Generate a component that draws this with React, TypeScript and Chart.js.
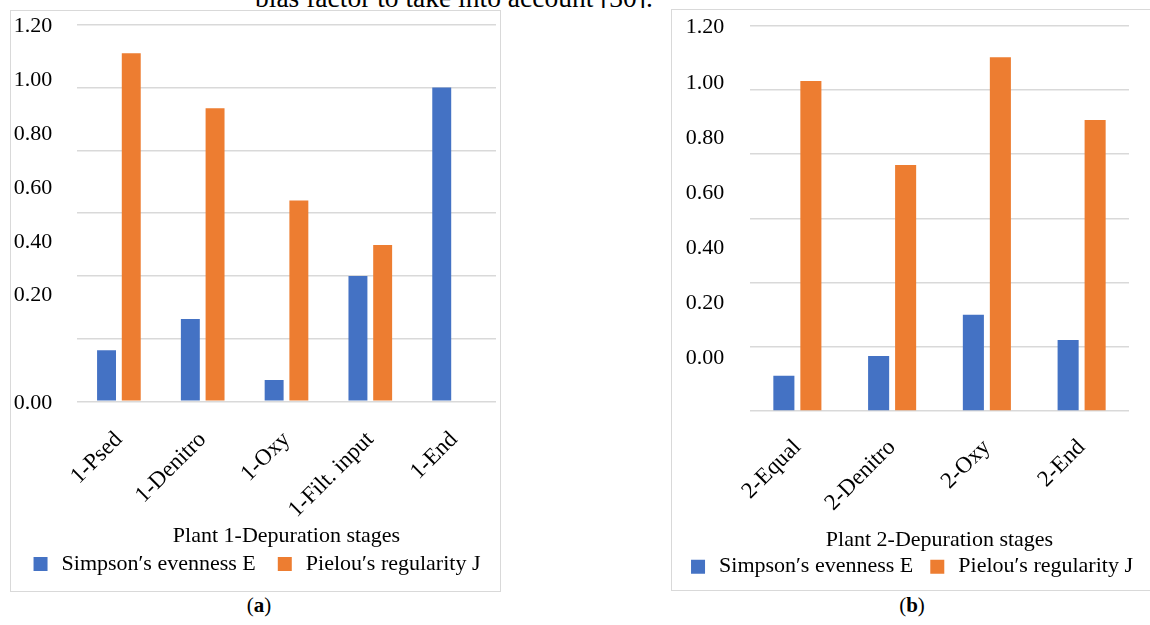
import React, { useEffect, useRef } from 'react';
import { Chart, registerables } from 'chart.js';

Chart.register(...registerables);

// ---- data ----
const plant1Stages = ['1-Psed', '1-Denitro', '1-Oxy', '1-Filt. input', '1-End'];
const plant1Simpson = [0.163, 0.262, 0.068, 0.399, 1.0];
const plant1Pielou = [1.109, 0.934, 0.64, 0.498, 0];

const plant2Stages = ['2-Equal', '2-Denitro', '2-Oxy', '2-End'];
const plant2Simpson = [0.11, 0.171, 0.3, 0.221];
const plant2Pielou = [1.028, 0.766, 1.102, 0.906];

const yTickTexts = ['0.00', '0.20', '0.40', '0.60', '0.80', '1.00', '1.20'];
const plant1TickValues = [-0.2, 0.2, 0.4, 0.6, 0.8, 1.0, 1.2];
const plant2TickValues = [0, 0.2, 0.4, 0.6, 0.8, 1.0, 1.2];

const seriesNames = ['Simpson\u2032s evenness E', 'Pielou\u2032s regularity J'];
const axisTitles = ['Plant 1-Depuration stages', 'Plant 2-Depuration stages'];

const BLUE = '#4472C4';
const ORANGE = '#ED7D31';
const GRID = '#D9D9D9';
const FONT = 'Liberation Serif';

Chart.defaults.font.family = FONT;

type PanelProps = {
  labels: string[];
  simpson: number[];
  pielou: number[];
  tickValues: number[];
  title: string;
  width: number;
  height: number;
  pad: { top: number; right: number; bottom: number; left: number };
  labelWidth: number;
  labelShift: number;
  gapWidth: number;
  rightWidth: number;
  xTickPad: number;
  xHeight: number;
  titlePadBottom: number;
  catPct: number;
  barPct: number;
  legendPad: number;
};

function Panel(p: PanelProps) {
  const ref = useRef<HTMLCanvasElement | null>(null);
  useEffect(() => {
    if (!ref.current) return;
    const mkFont = (size = 22) => ({ family: FONT, size });
    const chart = new Chart(ref.current, {
      type: 'bar',
      data: {
        labels: p.labels,
        datasets: [
          {
            label: seriesNames[0],
            data: p.simpson,
            backgroundColor: BLUE,
            borderWidth: 0,
            categoryPercentage: p.catPct,
            barPercentage: p.barPct,
            yAxisID: 'y',
          },
          {
            label: seriesNames[1],
            data: p.pielou,
            backgroundColor: ORANGE,
            borderWidth: 0,
            categoryPercentage: p.catPct,
            barPercentage: p.barPct,
            yAxisID: 'y',
          },
        ],
      },
      options: {
        responsive: false,
        animation: false,
        layout: { padding: p.pad, autoPadding: false } as any,
        plugins: {
          legend: {
            position: 'bottom',
            labels: {
              font: mkFont(),
              color: '#000',
              boxWidth: 20,
              boxHeight: 20,
              padding: p.legendPad,
              generateLabels: (c: any) =>
                Chart.defaults.plugins.legend.labels
                  .generateLabels(c)
                  .map((it: any) => ({ ...it, lineWidth: 6, strokeStyle: '#ffffff' })),
            },
          },
          tooltip: { enabled: false },
        },
        scales: {
          x: {
            grid: { display: false },
            border: { display: false },
            ticks: {
              font: mkFont(23),
              color: '#000',
              minRotation: 45,
              maxRotation: 45,
              autoSkip: false,
              padding: p.xTickPad,
            },
            title: {
              display: true,
              text: p.title,
              font: mkFont(),
              color: '#000',
              padding: { top: 0, bottom: p.titlePadBottom },
            },
            afterFit: (s: any) => {
              s.height = p.xHeight;
            },
          },
          yl: {
            type: 'linear',
            position: 'left',
            weight: 1,
            min: -0.2 + p.labelShift,
            max: 1.2 + p.labelShift,
            grid: { display: false, drawTicks: false },
            border: { display: false },
            ticks: {
              font: mkFont(),
              color: '#000',
              padding: 0,
              autoSkip: false,
              callback: (_v: any, i: number) => yTickTexts[i],
            },
            afterBuildTicks: (s: any) => {
              s.ticks = p.tickValues.map((v) => ({ value: v }));
            },
            afterFit: (s: any) => {
              s.width = p.labelWidth;
            },
          },
          y: {
            type: 'linear',
            position: 'left',
            weight: 0,
            min: 0,
            max: 1.2,
            ticks: { display: false, stepSize: 0.2, padding: 0 },
            grid: { color: GRID, lineWidth: 1.4, drawTicks: false },
            border: { display: false },
            afterFit: (s: any) => {
              s.width = p.gapWidth;
            },
          },
          yr: {
            type: 'linear',
            position: 'right',
            min: 0,
            max: 1.2,
            ticks: { display: false, padding: 0 },
            grid: { display: false, drawTicks: false },
            border: { display: false },
            afterFit: (s: any) => {
              s.width = p.rightWidth;
            },
          },
        } as any,
      },
    });
    return () => chart.destroy();
  }, []);
  return <canvas ref={ref} width={p.width} height={p.height} style={{ display: 'block' }} />;
}

export default function App() {
  return (
    <div
      style={{
        position: 'fixed',
        left: 0,
        top: 0,
        width: 1150,
        height: 625,
        overflow: 'hidden',
        background: '#fff',
        fontFamily: FONT,
      }}
    >
      <div
        style={{
          position: 'absolute',
          left: 255,
          top: 0,
          width: 420,
          height: 8,
          overflow: 'hidden',
        }}
      >
        <div
          style={{
            position: 'absolute',
            left: 0,
            bottom: -3,
            fontSize: 27.5,
            lineHeight: '27.5px',
            whiteSpace: 'nowrap',
            color: '#000',
          }}
        >
          bias factor to take into account [30].
        </div>
      </div>

      <div style={{ position: 'absolute', left: 10, top: 10, width: 491, height: 582 }}>
        <Panel
          labels={plant1Stages}
          simpson={plant1Simpson}
          pielou={plant1Pielou}
          tickValues={plant1TickValues}
          title={axisTitles[0]}
          width={491}
          height={582}
          pad={{ top: 14.7, right: 0, bottom: 7, left: 0 }}
          labelWidth={42.3}
          labelShift={0.0074}
          gapWidth={24.7}
          rightWidth={5}
          xTickPad={17}
          xHeight={132.7}
          titlePadBottom={-15.2}
          catPct={0.59}
          barPct={0.766}
          legendPad={19}
        />
        <div
          style={{
            position: 'absolute',
            left: 0,
            top: 0,
            width: 491,
            height: 582,
            boxSizing: 'border-box',
            border: '1.5px solid ' + GRID,
            pointerEvents: 'none',
          }}
        />
      </div>

      <div style={{ position: 'absolute', left: 671, top: 9, width: 479, height: 582 }}>
        <Panel
          labels={plant2Stages}
          simpson={plant2Simpson}
          pielou={plant2Pielou}
          tickValues={plant2TickValues}
          title={axisTitles[1]}
          width={479}
          height={582}
          pad={{ top: 16.7, right: 0, bottom: 3.3, left: 0 }}
          labelWidth={53.3}
          labelShift={0.0073}
          gapWidth={25.7}
          rightWidth={21}
          xTickPad={15}
          xHeight={130.7}
          titlePadBottom={-11.5}
          catPct={0.57}
          barPct={0.78}
          legendPad={14}
        />
        <div
          style={{
            position: 'absolute',
            left: 0,
            top: 0,
            width: 500,
            height: 582,
            boxSizing: 'border-box',
            border: '1.5px solid ' + GRID,
            pointerEvents: 'none',
          }}
        />
      </div>

      <div
        style={{
          position: 'absolute',
          left: 229,
          top: 592,
          width: 60,
          textAlign: 'center',
          fontSize: 21,
          lineHeight: '26px',
          color: '#000',
        }}
      >
        (<b>a</b>)
      </div>
      <div
        style={{
          position: 'absolute',
          left: 882,
          top: 592,
          width: 60,
          textAlign: 'center',
          fontSize: 21,
          lineHeight: '26px',
          color: '#000',
        }}
      >
        (<b>b</b>)
      </div>
    </div>
  );
}
